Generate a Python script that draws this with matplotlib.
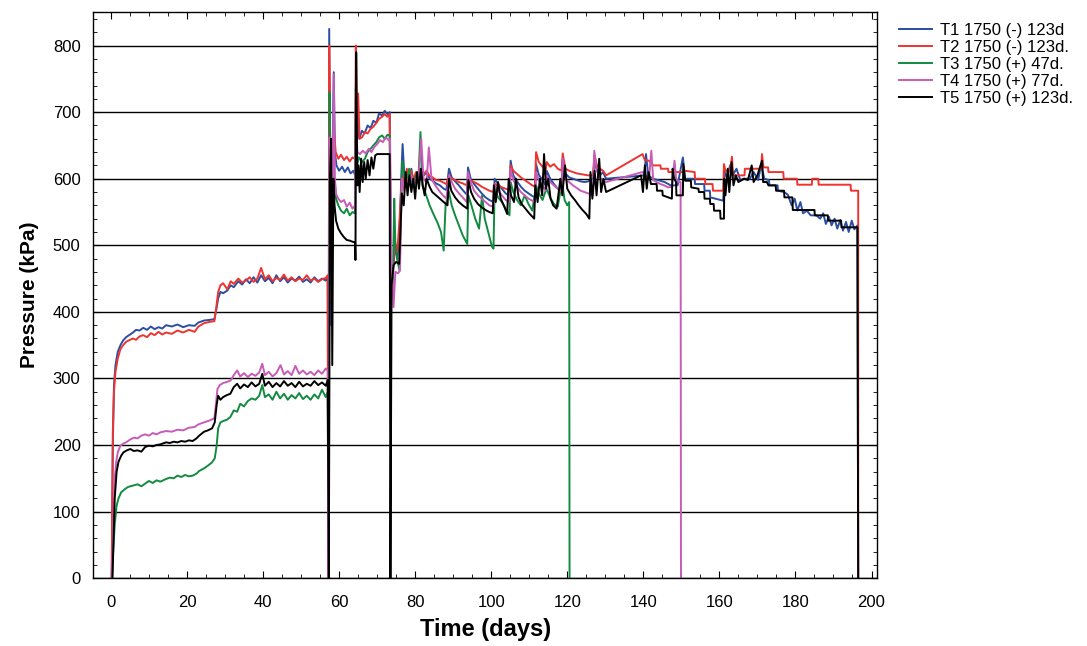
import matplotlib
matplotlib.use("Agg")
import matplotlib.pyplot as plt
from matplotlib.ticker import MultipleLocator

plt.rcParams['font.family'] = ['Liberation Sans', 'DejaVu Sans']

# (time in days, pressure in kPa)
t1_points = [
    (0.2, 0), (0.5, 200), (0.8, 290), (1.2, 320), (1.8, 340), (2.5, 350), (3.2, 357), (4.0, 362),
    (5.0, 366), (5.8, 369), (6.6, 373), (7.5, 372), (8.5, 376), (9.5, 373), (10.5, 378), (11.5, 374),
    (12.5, 377), (13.5, 375), (14.5, 380), (16, 378), (17.5, 381), (19, 377), (20.5, 380), (22, 379),
    (23, 384), (24.5, 387), (26, 388), (27.2, 389), (27.6, 400), (28.2, 420), (28.8, 430), (29.5, 428),
    (30.6, 432), (31.5, 440), (32.3, 437), (33.5, 446), (34.5, 441), (35.5, 449), (36.5, 443), (37.5, 452),
    (38.5, 444), (39.5, 455), (40.5, 446), (41.5, 451), (42.5, 443), (43.5, 455), (44.5, 446), (45.5, 452),
    (46.5, 444), (47.5, 450), (48.5, 447), (49.5, 453), (50.5, 445), (51.5, 449), (52.5, 444), (53.5, 452),
    (54.5, 446), (55.5, 450), (56.5, 447), (57.0, 452), (57.2, 0), (57.4, 825), (57.6, 640), (57.9, 380),
    (58.3, 640), (58.6, 760), (58.9, 640), (59.3, 620), (60, 612), (60.8, 618), (61.5, 610), (62.3, 617),
    (63, 608), (63.8, 612), (64.2, 605), (64.4, 720), (64.8, 690), (65.3, 660), (66, 672), (66.7, 668),
    (67.5, 680), (68.3, 676), (69, 687), (69.8, 684), (70.5, 698), (71.3, 695), (72, 702), (72.7, 697),
    (73.3, 700), (73.6, 470), (74.1, 450), (74.7, 500), (75.3, 480), (75.9, 520), (76.4, 610), (76.7, 652),
    (77.2, 600), (77.8, 612), (78.4, 595), (79, 615), (79.6, 590), (80.2, 608), (80.8, 596), (81.5, 612),
    (82.3, 605), (83, 610), (83.8, 600), (84.6, 597), (85.5, 593), (86.5, 590), (87.5, 585), (88.2, 583),
    (88.9, 615), (89.6, 602), (90.5, 596), (91.5, 590), (92.5, 583), (93.6, 576), (93.9, 617), (94.6, 600),
    (95.5, 592), (96.5, 585), (97.5, 578), (98.5, 572), (99.5, 568), (100.6, 565), (100.9, 600), (101.8, 592),
    (102.8, 585), (103.8, 578), (104.8, 574), (105.1, 627), (105.8, 605), (106.8, 596), (107.8, 588),
    (108.8, 582), (109.8, 578), (110.8, 574), (111.5, 572), (111.8, 622), (112.5, 606), (113.5, 598),
    (114.3, 590), (114.6, 612), (115.5, 600), (116.5, 592), (117.5, 585), (118.5, 580), (118.8, 627),
    (119.5, 608), (120.5, 602), (121.5, 600), (122.5, 598), (123.5, 596), (124.5, 595), (125.5, 596),
    (126.8, 600), (127.1, 628), (127.8, 612), (128.6, 605), (129.4, 610), (130.2, 600), (140.3, 605),
    (140.7, 637), (141.3, 605), (142.5, 600), (143.8, 598), (145.6, 595), (147.2, 590), (149, 590),
    (150.4, 632), (151, 600), (153.5, 600), (153.6, 592), (156, 592), (156.1, 582), (157.5, 582),
    (157.6, 572), (159, 570), (161, 567), (161.3, 612), (162, 600), (162.8, 620), (163.5, 605), (164.5, 615),
    (165.5, 598), (166.5, 600), (168, 600), (169, 610), (170.2, 598), (171, 622), (171.8, 600), (173, 598),
    (173.2, 590), (175.3, 590), (175.4, 582), (177, 580), (178, 576), (179, 560), (179.8, 570), (180.5, 552),
    (181.3, 565), (182, 548), (183, 552), (184, 545), (185.5, 545), (186.5, 540), (187.3, 548), (188, 532),
    (188.8, 543), (189.5, 530), (190.3, 540), (191, 525), (191.8, 538), (192.5, 522), (193.3, 535),
    (194, 520), (194.8, 537), (195.5, 524), (196.3, 530), (196.5, 0),
]

t2_points = [
    (0.2, 0), (0.5, 220), (0.8, 280), (1.2, 310), (1.8, 330), (2.5, 344), (3.2, 350), (4.0, 355),
    (5.0, 358), (5.8, 360), (6.6, 358), (7.5, 363), (8.5, 365), (9.5, 362), (10.5, 368), (11.5, 365),
    (12.5, 370), (13.5, 366), (14.5, 369), (16, 367), (17.5, 372), (19, 369), (20.5, 373), (22, 370),
    (23, 378), (24.5, 383), (26, 385), (27.2, 386), (27.6, 402), (28.2, 430), (28.8, 440), (29.5, 443),
    (30.6, 434), (31.5, 446), (32.3, 442), (33.5, 450), (34.5, 444), (35.5, 447), (36.5, 452), (37.5, 445),
    (38.5, 450), (39.5, 466), (40.5, 449), (41.5, 455), (42.5, 446), (43.5, 451), (44.5, 448), (45.5, 456),
    (46.5, 447), (47.5, 452), (48.5, 446), (49.5, 450), (50.5, 448), (51.5, 455), (52.5, 447), (53.5, 450),
    (54.5, 445), (55.5, 449), (56.5, 451), (57.0, 455), (57.2, 0), (57.4, 800), (57.6, 700), (57.9, 420),
    (58.3, 660), (58.7, 670), (59.1, 640), (59.8, 630), (60.5, 636), (61.3, 628), (62, 633), (62.8, 626),
    (63.5, 632), (64.2, 630), (64.4, 800), (64.7, 690), (65.0, 728), (65.4, 660), (66, 662), (66.8, 670),
    (67.5, 668), (68.3, 675), (69, 678), (69.8, 684), (70.5, 690), (71.3, 693), (72, 697), (72.7, 693),
    (73.3, 697), (73.6, 440), (74.1, 460), (74.7, 505), (75.3, 490), (75.9, 540), (76.4, 590), (76.7, 605),
    (77.2, 590), (77.8, 615), (78.4, 600), (79, 612), (79.6, 598), (80.2, 610), (80.8, 600), (81.5, 614),
    (82.3, 607), (83, 612), (83.8, 604), (84.6, 602), (85.5, 598), (86.5, 597), (87.5, 594), (88.2, 592),
    (88.9, 605), (89.6, 600), (90.5, 598), (91.5, 595), (92.5, 593), (93.6, 590), (93.9, 600), (94.6, 597),
    (95.5, 595), (96.5, 592), (97.5, 588), (98.5, 585), (99.5, 582), (100.6, 580), (100.9, 592), (101.8, 590),
    (102.8, 587), (103.8, 585), (104.8, 583), (105.1, 620), (105.8, 612), (106.8, 607), (107.8, 602),
    (108.8, 598), (109.8, 594), (110.8, 590), (111.5, 588), (111.8, 640), (112.5, 625), (113.5, 618),
    (114.3, 612), (114.6, 625), (115.5, 618), (116.5, 622), (117.5, 615), (118.5, 612), (118.8, 638),
    (119.5, 615), (120.5, 612), (121.5, 610), (122.5, 608), (123.5, 607), (124.5, 606), (125.5, 605),
    (126.8, 605), (127.1, 636), (127.8, 620), (128.6, 615), (129.4, 612), (130.2, 605), (139.8, 637),
    (140.4, 628), (141.5, 627), (142.5, 620), (144.5, 620), (144.6, 615), (146.5, 615), (146.6, 610),
    (150.5, 610), (150.8, 612), (153.5, 610), (153.6, 600), (156.2, 600), (156.3, 592), (158.2, 592),
    (158.3, 582), (161, 582), (161.2, 622), (161.6, 612), (162.8, 612), (163.3, 633), (163.6, 605),
    (166.6, 605), (166.7, 615), (171, 615), (171.2, 637), (171.6, 617), (172.8, 617), (172.9, 610),
    (176.8, 610), (176.9, 600), (180.4, 600), (180.5, 591), (184.3, 591), (184.4, 600), (186, 600),
    (186.1, 591), (194.5, 591), (194.6, 582), (196.5, 582), (196.5, 0),
]

t3_points = [
    (0.3, 0), (0.6, 40), (1.0, 80), (1.5, 109), (2.0, 120), (2.7, 129), (3.5, 133), (4.5, 137),
    (5.8, 139), (7, 141), (8, 138), (9, 142), (10, 146), (11, 143), (12, 147), (13, 145), (14.5, 149),
    (15.5, 151), (16.5, 150), (17.5, 154), (18.5, 152), (19.5, 155), (20.5, 153), (21.5, 154), (22.5, 157),
    (23.2, 161), (24.5, 165), (25.5, 169), (26.6, 174), (27.3, 180), (27.8, 199), (28.2, 225), (28.8, 234),
    (29.5, 236), (30.5, 238), (31.4, 242), (32.3, 252), (33.2, 250), (34, 262), (35, 258), (36, 266),
    (37, 270), (38, 268), (39, 274), (39.8, 290), (40.5, 272), (41.5, 276), (42.5, 268), (43.5, 280),
    (44.5, 270), (45.5, 277), (46.5, 268), (47.5, 275), (48.5, 270), (49.5, 278), (50.5, 269), (51.5, 274),
    (52.5, 268), (53.5, 276), (54.5, 270), (55.5, 283), (56.5, 272), (57.0, 280), (57.2, 0), (57.5, 730),
    (57.7, 620), (57.9, 430), (58.3, 590), (58.8, 600), (59.2, 570), (59.8, 560), (60.5, 552), (61.3, 548),
    (62, 555), (62.8, 545), (63.5, 550), (64.2, 548), (64.4, 737), (64.7, 620), (65.2, 632), (66, 625),
    (66.8, 630), (67.5, 640), (68.3, 645), (69, 650), (69.8, 655), (70.5, 662), (71.3, 665), (72, 660),
    (72.7, 666), (73.3, 665), (73.6, 480), (74.1, 430), (74.5, 570), (74.8, 500), (75.3, 478), (75.9, 462),
    (76.6, 627), (77.2, 605), (77.8, 590), (78.4, 615), (79, 600), (79.6, 587), (80.2, 605), (80.8, 595),
    (81.4, 670), (81.9, 590), (82.8, 577), (83.8, 560), (84.8, 547), (85.8, 535), (86.8, 520), (87.5, 492),
    (88.0, 560), (88.9, 580), (89.6, 560), (90.5, 545), (91.5, 530), (92.5, 515), (93.7, 502), (94.0, 575),
    (94.8, 560), (95.8, 540), (96.8, 525), (97.6, 575), (98.3, 540), (99.2, 520), (100.2, 498), (100.6, 495),
    (100.9, 585), (101.8, 572), (102.8, 565), (103.8, 555), (104.8, 545), (105.1, 595), (105.8, 580),
    (106.8, 568), (107.8, 560), (108.8, 575), (109.8, 562), (110.8, 552), (111.8, 590), (112.5, 578),
    (113.5, 568), (114.5, 585), (115.5, 572), (116.5, 562), (117.5, 558), (118.6, 595), (119.3, 568),
    (120.0, 560), (120.5, 565), (120.6, 0),
]

t4_points = [
    (0.3, 0), (0.6, 80), (1.0, 149), (1.4, 175), (1.8, 189), (2.5, 199), (3.2, 202), (4, 204), (5, 208),
    (6, 211), (7, 210), (8, 214), (9, 216), (10, 214), (11, 218), (12, 216), (13, 219), (14.5, 221),
    (16, 220), (17.5, 223), (19, 222), (20.5, 226), (22, 227), (23, 231), (24.5, 234), (26, 237),
    (27.2, 240), (27.6, 260), (28.0, 284), (28.6, 290), (29.5, 293), (30.6, 295), (31.5, 297), (32.3, 305),
    (33.2, 312), (34, 303), (35, 308), (36, 302), (37, 307), (38, 304), (39, 309), (39.8, 322), (40.5, 305),
    (41.5, 310), (42.5, 303), (43.5, 308), (44.6, 320), (45.5, 306), (46.5, 311), (47.5, 305), (48.5, 319),
    (49.5, 307), (50.5, 312), (51.5, 306), (52.5, 310), (53.5, 305), (54.5, 312), (55.5, 307), (56.5, 315),
    (57.0, 312), (57.2, 0), (57.5, 662), (57.8, 520), (58.2, 560), (58.6, 757), (58.9, 600), (59.2, 577),
    (59.8, 570), (60.5, 565), (61.3, 568), (62, 558), (62.8, 564), (63.5, 555), (64.2, 560), (64.4, 700),
    (64.8, 640), (65.5, 637), (66.2, 642), (67, 638), (67.8, 645), (68.5, 640), (69.3, 648), (70, 652),
    (70.8, 658), (71.5, 655), (72.3, 662), (73.0, 658), (73.4, 660), (73.7, 500), (74.3, 407), (74.8, 460),
    (75.5, 458), (76.0, 462), (76.5, 600), (77.2, 582), (77.8, 600), (78.4, 590), (79, 605), (79.6, 592),
    (80.2, 600), (80.8, 594), (81.6, 660), (82.2, 600), (83.0, 594), (83.6, 647), (84.3, 600), (85.3, 590),
    (86.3, 582), (87.3, 575), (88.2, 570), (88.9, 605), (89.6, 595), (90.5, 585), (91.5, 578), (92.5, 572),
    (93.6, 565), (93.9, 610), (94.6, 595), (95.5, 582), (96.5, 575), (97.5, 570), (98.5, 565), (99.5, 560),
    (100.6, 558), (100.9, 590), (101.8, 582), (102.8, 575), (103.8, 568), (104.8, 565), (105.1, 615),
    (105.8, 598), (106.8, 588), (107.8, 580), (108.8, 575), (109.8, 570), (110.8, 567), (111.5, 565),
    (111.8, 610), (112.5, 598), (113.5, 590), (114.3, 582), (114.6, 605), (115.5, 595), (116.5, 590),
    (117.5, 585), (118.5, 580), (118.8, 630), (119.5, 600), (120.5, 595), (121.5, 590), (122.5, 586),
    (123.5, 582), (124.5, 580), (125.5, 578), (126.8, 575), (127.1, 642), (127.8, 612), (128.6, 600),
    (129.4, 598), (130.2, 595), (139.8, 610), (140.5, 605), (141.5, 600), (142.1, 642), (142.6, 598),
    (143.5, 595), (144.5, 592), (145.5, 590), (146.5, 587), (147.5, 588), (148.2, 627), (148.6, 600),
    (149.4, 595), (149.8, 595), (149.9, 0),
]

t5_points = [
    (0.4, 0), (0.7, 60), (1.0, 120), (1.5, 160), (2.0, 175), (2.7, 184), (3.3, 189), (4.2, 192),
    (5.1, 194), (6, 191), (7, 192), (8, 190), (9, 197), (10, 199), (11, 198), (12, 200), (13, 201),
    (14.5, 204), (15.5, 203), (16.5, 205), (17.5, 204), (18.5, 206), (19.5, 205), (20.5, 207), (21.5, 206),
    (22.5, 210), (23.2, 214), (24.5, 220), (25.5, 222), (26.6, 225), (27.3, 234), (27.8, 260), (28.2, 274),
    (28.8, 268), (29.5, 272), (30.5, 275), (31.4, 277), (32.3, 287), (33.2, 292), (34, 285), (35, 291),
    (36, 287), (37, 294), (38, 288), (39, 292), (39.8, 307), (40.5, 289), (41.5, 295), (42.5, 287),
    (43.5, 293), (44.5, 288), (45.5, 296), (46.5, 289), (47.5, 293), (48.5, 287), (49.5, 295), (50.5, 288),
    (51.5, 292), (52.5, 289), (53.5, 296), (54.5, 290), (55.5, 294), (56.5, 289), (57.0, 298), (57.3, 0),
    (57.6, 600), (57.9, 660), (58.2, 320), (58.5, 600), (58.8, 560), (59.2, 537), (59.8, 525), (60.5, 518),
    (61.3, 512), (62, 508), (62.8, 507), (63.7, 505), (64.2, 505), (64.3, 478), (64.5, 790), (64.8, 590),
    (65.1, 620), (65.4, 580), (65.8, 630), (66.2, 595), (66.6, 625), (67.0, 600), (67.5, 628), (68.0, 605),
    (68.5, 632), (69.0, 615), (69.5, 635), (70.0, 637), (71.5, 637), (73.3, 637), (73.5, 0), (73.8, 440),
    (74.3, 470), (75, 475), (75.8, 472), (76.5, 578), (77.0, 560), (77.5, 610), (78.0, 575), (78.5, 605),
    (79, 580), (79.5, 600), (80, 570), (80.5, 610), (81.0, 585), (81.5, 615), (82, 590), (82.5, 575),
    (83, 600), (83.8, 588), (84.5, 580), (85.5, 575), (86.5, 570), (87.5, 565), (88.5, 560), (88.9, 600),
    (89.5, 582), (90.5, 572), (91.5, 565), (92.5, 560), (93.7, 555), (94.0, 598), (94.7, 580), (95.5, 570),
    (96.5, 562), (97.5, 557), (98.5, 553), (99.5, 550), (100.4, 548), (100.7, 590), (101.2, 565),
    (101.8, 595), (102.5, 570), (103.3, 560), (104.2, 547), (104.6, 600), (105.2, 575), (106, 565),
    (106.5, 600), (107.2, 572), (108, 562), (109, 555), (110, 548), (111.3, 540), (111.6, 590), (112.2, 565),
    (112.8, 600), (113.4, 575), (113.9, 637), (114.4, 585), (115, 600), (115.6, 570), (116.3, 560),
    (117.2, 555), (118.2, 600), (118.7, 575), (119.4, 620), (120, 585), (121, 575), (122, 568), (123, 560),
    (124, 553), (125, 547), (125.8, 540), (126.1, 610), (126.6, 570), (127.2, 612), (127.7, 575),
    (128.4, 630), (128.9, 580), (129.5, 600), (130.2, 580), (139.4, 605), (139.9, 580), (140.4, 620),
    (140.9, 585), (141.4, 610), (142, 592), (143.5, 592), (143.6, 582), (145, 582), (145.1, 575),
    (147.5, 570), (147.7, 615), (148.1, 600), (148.6, 595), (148.7, 575), (150.4, 575), (150.5, 622),
    (151, 597), (152.5, 597), (152.6, 587), (154.5, 585), (154.6, 580), (156, 580), (156.1, 570),
    (157.5, 570), (157.6, 562), (158.5, 562), (158.6, 552), (160.2, 552), (160.3, 540), (161.2, 540),
    (161.3, 600), (161.6, 575), (162.2, 615), (162.6, 580), (163.2, 625), (163.7, 590), (164.3, 605),
    (165, 595), (166.5, 600), (167.5, 598), (168.5, 620), (169, 595), (170, 605), (171.2, 627), (171.5, 595),
    (172.5, 595), (172.9, 590), (174.8, 590), (174.9, 582), (177, 582), (177.1, 572), (179.2, 572),
    (179.3, 553), (185, 553), (185.1, 545), (188.5, 545), (188.6, 537), (192, 537), (192.1, 527),
    (196.3, 527), (196.5, 0),
]

labels = ["T1 1750 (-) 123d", "T2 1750 (-) 123d.", "T3 1750 (+) 47d.",
          "T4 1750 (+) 77d.", "T5 1750 (+) 123d."]
colors = ["#2b4ea2", "#ec3430", "#128a40", "#c75bb8", "#000000"]
series = [t1_points, t2_points, t3_points, t4_points, t5_points]

fig = plt.figure(figsize=(10.87, 6.46), dpi=100)
ax = fig.add_axes([0.0856, 0.105, 0.7214, 0.876])

for pts, col, lab in zip(series, colors, labels):
    t = [p[0] for p in pts]
    v = [p[1] for p in pts]
    ax.plot(t, v, color=col, lw=1.4, label=lab)

ax.set_xlim(-4.7, 201.5)
ax.set_ylim(0, 850)
ax.xaxis.set_major_locator(MultipleLocator(20))
ax.xaxis.set_minor_locator(MultipleLocator(5))
ax.yaxis.set_major_locator(MultipleLocator(100))
ax.yaxis.set_minor_locator(MultipleLocator(20))
ax.tick_params(which='both', direction='in', top=True, right=True, labelsize=12)
ax.tick_params(which='major', length=5)
ax.tick_params(which='minor', length=3)
ax.tick_params(axis='x', which='major', pad=12)
ax.tick_params(axis='y', which='major', pad=9)
ax.grid(axis='y', which='major', color='black', lw=1.0)
ax.set_axisbelow(True)
for s in ax.spines.values():
    s.set_linewidth(1.0)

ax.set_xlabel("Time (days)", fontsize=17, fontweight='bold', labelpad=6)
ax.set_ylabel("Pressure (kPa)", fontsize=15, fontweight='bold', labelpad=10)

ax.legend(loc='upper left', bbox_to_anchor=(0.821, 0.975), bbox_transform=fig.transFigure,
          frameon=False, fontsize=12, handlelength=2.0, handletextpad=0.45,
          labelspacing=0.12, borderaxespad=0)

fig.savefig("out.png", dpi=100)
